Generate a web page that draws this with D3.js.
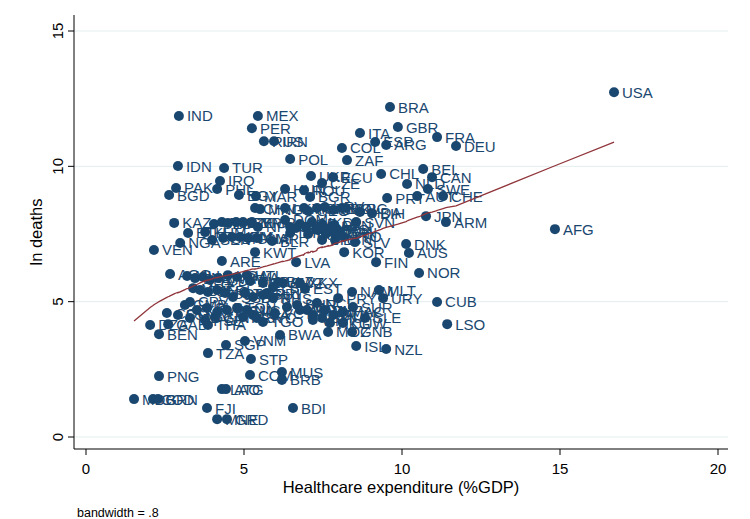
<!DOCTYPE html>
<html>
<head>
<meta charset="utf-8">
<script src="https://cdn.jsdelivr.net/npm/d3@7"></script>
<style>
  body { margin: 0; background: #fff; }
  svg { display: block; }
</style>
</head>
<body>
<svg class="chart" width="750" height="519"></svg>
<script>
// country codes, health spending (%GDP) and ln deaths
const codes = [
  'IND','MEX','PER','RUS','IRN','BRA','GBR','ITA','ESP','ARG','FRA','DEU','COL','ZAF','POL','USA',
  'IDN','TUR','IRQ','PAK','BGD','PHL','EGY','MAR','HUN','ROU','UKR','ECU','CZE','BGR','CHL','BEL',
  'CAN','NLD','SWE','AUT','CHE','PRT','JPN','ARM','GRC','BIH','SVN','AFG','DNK','AUS','NOR','CUB',
  'LSO','NZL','ISL','FIN','KOR','LVA','LBN','SLV','BLR','KWT','ARE','VEN','NGA','ETH','KAZ','AGO',
  'ZMB','EST','BLZ','BHS','NAM','MLT','URY','PRY','SUR','SLE','GNB','MOZ','BWA','VNM','SGP','STP',
  'TZA','PNG','COM','MUS','BRB','LAO','ATG','MDG','COD','BRN','FJI','MNE','GRD','BDI','BEN','DZA',
  'GAB','THA','GMB','COG','GIN','TGO',
  'CHN','MNG','LKA','TKM','SRB','HRV','SVK','BOL','MDA','GEO',
  'UZB','TJK','KGZ','AZE','SYR','MMR','NPL','DOM','GTM','HND','JOR','TUN','MKD','ALB','SAU','MYS',
  'PAN','CRI','ISR','IRL','CYP','LBY','OMN','TTO','SDN','YEM','CIV','GHA','CMR','KHM','SEN','LTU',
  'MLI','BFA','NER','TCD','MWI','UGA','RWA','HTI','ZWE','LBR','SWZ','MRT','DJI','GNQ','ERI','SOM',
  'SSD','TLS','BTN','GUY','CPV','KIR','SLB','VUT','WSM','TON','NIC','LCA','VCT','JAM','BHR','KNA',
  'DMA','FSM','MDV','PSE','PRK','SYC','XKX','PRI','NCL','PYF','GUM','MAC','HKG','CUW','ABW','VIR','BMU'
];
const healthExp = [
  2.94,5.44,5.25,5.63,5.95,9.62,9.87,8.67,9.15,9.50,11.11,11.71,8.10,8.26,6.46,16.71,
  2.91,4.37,4.24,2.85,2.63,4.15,4.84,5.38,6.30,6.90,7.12,7.82,7.47,7.09,9.34,10.67,
  10.95,10.16,10.82,10.48,11.30,9.53,10.76,11.39,8.23,9.05,8.55,14.84,10.13,10.22,10.54,11.11,
  11.43,9.50,8.55,9.18,8.17,6.65,7.88,8.51,5.89,5.35,4.30,2.15,2.98,3.23,2.79,2.66,
  5.19,6.93,6.08,5.92,8.42,9.27,9.40,7.98,8.45,8.83,8.42,7.66,6.14,5.03,4.43,5.22,
  3.86,2.31,5.19,6.20,6.20,4.30,4.43,1.52,2.12,2.28,3.83,4.15,4.46,6.55,2.31,2.03,
  2.60,3.86,3.13,2.56,4.08,5.60,
  5.35,5.51,6.30,6.90,7.31,7.56,7.82,8.10,8.67,7.03,
  4.05,4.30,4.49,4.75,4.97,5.25,5.44,6.30,6.46,6.65,6.77,6.96,7.15,7.28,7.47,7.66,
  7.85,8.01,6.46,7.03,7.34,7.59,7.85,8.16,4.34,4.62,4.87,5.13,5.41,3.77,3.99,7.47,
  3.20,3.45,3.70,3.92,4.18,4.49,4.78,5.09,5.60,5.92,6.23,3.39,3.61,3.86,4.15,4.40,
  4.65,5.03,5.28,5.60,3.29,3.51,3.83,4.15,4.46,4.78,5.09,5.28,5.98,6.36,6.68,6.99,
  7.18,2.91,3.29,3.77,4.97,5.41,6.77,5.73,7.31,7.56,7.82,8.13,7.72,8.13,6.77,7.18,7.47
];
const lnDeaths = [
  11.86,11.86,11.41,10.93,10.93,12.19,11.45,11.23,10.90,10.79,11.08,10.75,10.68,10.23,10.27,12.74,
  10.01,9.94,9.46,9.20,8.94,9.16,8.94,8.90,9.16,9.12,9.64,9.60,9.38,8.87,9.72,9.90,
  9.60,9.35,9.16,8.90,8.90,8.83,8.16,7.94,8.46,8.27,7.94,7.68,7.13,6.80,6.06,4.99,
  4.17,3.25,3.36,6.46,6.83,6.46,7.28,7.20,7.24,6.83,6.50,6.91,7.17,7.54,7.91,6.02,
  5.76,5.47,5.73,5.13,5.36,5.43,5.13,5.13,4.80,4.40,3.88,3.88,3.77,3.55,3.40,2.88,
  3.10,2.25,2.29,2.40,2.11,1.77,1.77,1.40,1.40,1.40,1.07,0.66,0.66,1.07,3.80,4.14,
  4.17,4.14,4.88,4.58,4.43,4.25,
  8.46,8.42,8.46,8.46,8.46,8.50,8.39,8.46,8.31,8.35,
  7.87,7.94,7.91,7.94,7.94,7.94,7.76,8.02,7.76,7.72,7.87,7.76,7.94,7.68,7.83,7.68,
  7.83,7.57,7.54,7.50,7.65,7.50,7.54,7.39,7.35,7.39,7.39,7.35,7.35,7.57,7.28,7.28,
  5.95,5.87,5.91,5.80,5.87,5.98,5.91,5.98,5.69,5.54,5.69,5.50,5.43,5.36,5.43,5.32,
  5.17,5.32,5.17,5.25,4.99,4.69,4.77,4.62,4.69,4.77,4.69,4.51,4.58,4.80,4.88,4.69,
  4.51,4.51,4.40,4.32,4.43,4.40,5.69,5.32,4.95,4.69,4.51,4.62,4.21,4.21,4.69,4.32,4.40
];
const xTicks = [0, 5, 10, 15, 20];
const yTicks = [0, 5, 10, 15];
const bandwidth = 0.8;

const navy = '#1a476f';
const maroon = '#90353b';
const font = "'Liberation Sans', Arial, sans-serif";

const svg = d3.select('svg.chart');

// plot region (Stata leaves a little margin around the data range)
const plot = {left: 74, right: 728, top: 15, bottom: 449};

const x = d3.scaleLinear().domain([0, 20]).range([86, 718]);
const y = d3.scaleLinear().domain([0, 15]).range([437, 31]);

const points = codes.map((c, i) => ({code: c, hx: healthExp[i], ld: lnDeaths[i]}));

// lowess the Stata way: running line, tricube weights, no robustness steps
function lowess(data, bw) {
  const s = data.slice().sort((a, b) => a.hx - b.hx);
  const n = s.length;
  const k = Math.floor((n * bw - 0.5) / 2);
  return s.map((p, i) => {
    const lo = Math.max(0, i - k), hi = Math.min(n - 1, i + k);
    const delta = 1.0001 * Math.max(s[hi].hx - p.hx, p.hx - s[lo].hx);
    let sw = 0, sx = 0, sy = 0;
    const ws = [];
    for (let j = lo; j <= hi; j++) {
      const u = Math.abs(s[j].hx - p.hx) / delta;
      const w = u < 1 ? Math.pow(1 - u * u * u, 3) : 0;
      ws.push(w);
      sw += w; sx += w * s[j].hx; sy += w * s[j].ld;
    }
    const mx = sx / sw, my = sy / sw;
    let sxx = 0, sxy = 0;
    for (let j = lo; j <= hi; j++) {
      const w = ws[j - lo];
      sxx += w * (s[j].hx - mx) * (s[j].hx - mx);
      sxy += w * (s[j].hx - mx) * (s[j].ld - my);
    }
    const b = sxx > 0 ? sxy / sxx : 0;
    return [p.hx, my + b * (p.hx - mx)];
  });
}

// gridlines
svg.append('g')
  .attr('class', 'grid')
  .selectAll('line')
  .data(yTicks)
  .join('line')
  .attr('x1', plot.left)
  .attr('x2', plot.right)
  .attr('y1', d => y(d))
  .attr('y2', d => y(d))
  .style('stroke', '#e3edef')
  .style('stroke-width', 1);

// markers
svg.append('g')
  .selectAll('circle')
  .data(points)
  .join('circle')
  .attr('cx', d => x(d.hx))
  .attr('cy', d => y(d.ld))
  .attr('r', 5)
  .style('fill', navy);

// marker labels, to the right of each point
svg.append('g')
  .selectAll('text')
  .data(points)
  .join('text')
  .text(d => d.code)
  .attr('x', d => x(d.hx) + 8)
  .attr('y', d => y(d.ld) + 5.5)
  .style('fill', navy)
  .style('font-family', font)
  .style('font-size', '15px');

// lowess line
const fit = lowess(points, bandwidth);
svg.append('path')
  .datum(fit)
  .attr('d', d3.line().x(d => x(d[0])).y(d => y(d[1])))
  .style('fill', 'none')
  .style('stroke', maroon)
  .style('stroke-width', 1.3);

// axes
const axisG = svg.append('g').style('stroke', 'black').style('stroke-width', 1);
axisG.append('line')
  .attr('x1', plot.left).attr('x2', plot.left)
  .attr('y1', plot.top).attr('y2', plot.bottom);
axisG.append('line')
  .attr('x1', plot.left).attr('x2', plot.right)
  .attr('y1', plot.bottom).attr('y2', plot.bottom);

axisG.selectAll('line.xt')
  .data(xTicks)
  .join('line')
  .attr('class', 'xt')
  .attr('x1', d => x(d)).attr('x2', d => x(d))
  .attr('y1', plot.bottom).attr('y2', plot.bottom + 6);

axisG.selectAll('line.yt')
  .data(yTicks)
  .join('line')
  .attr('class', 'yt')
  .attr('x1', plot.left - 6).attr('x2', plot.left)
  .attr('y1', d => y(d)).attr('y2', d => y(d));

svg.append('g')
  .selectAll('text')
  .data(xTicks)
  .join('text')
  .text(d => d)
  .attr('x', d => x(d))
  .attr('y', plot.bottom + 25)
  .style('text-anchor', 'middle')
  .style('font-family', font)
  .style('font-size', '15px');

svg.append('g')
  .selectAll('text')
  .data(yTicks)
  .join('text')
  .text(d => d)
  .attr('transform', d => `translate(${plot.left - 11},${y(d)}) rotate(-90)`)
  .style('text-anchor', 'middle')
  .style('font-family', font)
  .style('font-size', '15px');

svg.append('text')
  .text('Healthcare expenditure (%GDP)')
  .attr('x', (plot.left + plot.right) / 2)
  .attr('y', 493)
  .style('text-anchor', 'middle')
  .style('font-family', font)
  .style('font-size', '16.5px');

svg.append('text')
  .text('ln deaths')
  .attr('transform', `translate(42,${(plot.top + plot.bottom) / 2}) rotate(-90)`)
  .style('text-anchor', 'middle')
  .style('font-family', font)
  .style('font-size', '16.5px');

svg.append('text')
  .text('bandwidth = .8')
  .attr('x', 77)
  .attr('y', 517)
  .style('font-family', font)
  .style('font-size', '12.5px');
</script>
</body>
</html>
